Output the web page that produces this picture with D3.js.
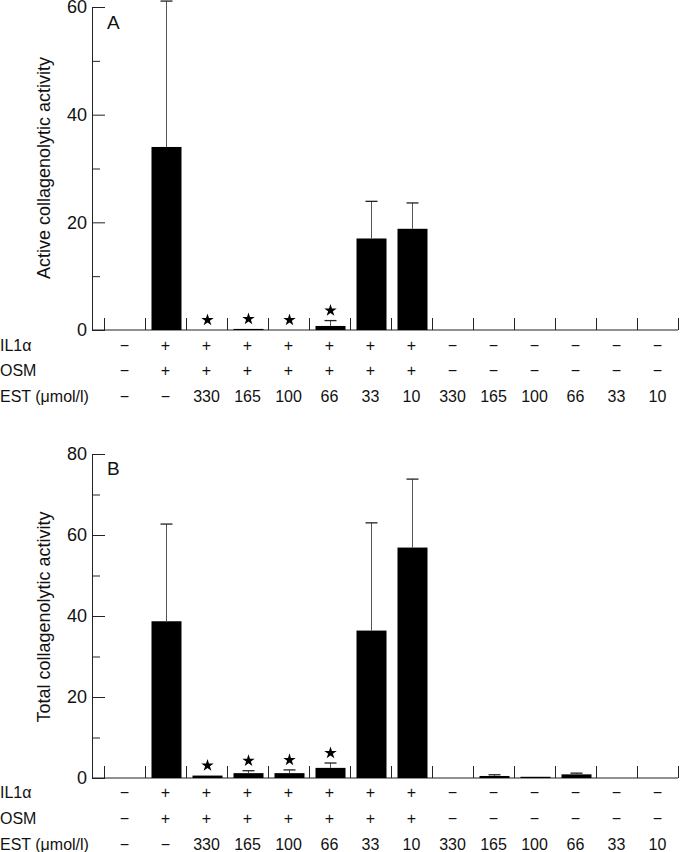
<!DOCTYPE html>
<html><head><meta charset="utf-8">
<script src="https://cdn.jsdelivr.net/npm/d3@7"></script>
<style>
body{margin:0;background:#fff;}
svg{display:block;font-family:"Liberation Sans",Arial,Helvetica,sans-serif;}
</style></head>
<body>
<script>
// ---- data ----
const categories = d3.range(14);
const il1Row = ["−","+","+","+","+","+","+","+","−","−","−","−","−","−"];
const osmRow = ["−","+","+","+","+","+","+","+","−","−","−","−","−","−"];
const estRow = ["−","−","330","165","100","66","33","10","330","165","100","66","33","10"];
const rowLabels = ["IL1α","OSM","EST (μmol/l)"];

const activeMean = [0, 34, 0, 0.2, 0, 0.75, 17.0, 18.8, 0, 0, 0, 0, 0, 0];
const activeErr  = [0, 27.1, 0, 0, 0, 1.0, 6.9, 4.8, 0, 0, 0, 0, 0, 0];
const activeSig  = [0, 0, 1, 1, 1, 1, 0, 0, 0, 0, 0, 0, 0, 0];

const totalMean = [0, 38.7, 0.6, 1.2, 1.2, 2.5, 36.4, 56.9, 0, 0.5, 0.3, 0.9, 0, 0];
const totalErr  = [0, 24.0, 0, 0.6, 0.8, 1.2, 26.6, 16.9, 0, 0.3, 0, 0.3, 0, 0];
const totalSig  = [0, 0, 1, 1, 1, 1, 0, 0, 0, 0, 0, 0, 0, 0];

const activeTicks = [0, 20, 40, 60];
const activeMinor = [10, 30, 50];
const totalTicks = [0, 20, 40, 60, 80];
const totalMinor = [10, 30, 50, 70];

// ---- layout ----
const W = 680, H = 852;
const svg = d3.select("body").append("svg").attr("width", W).attr("height", H);

const x = d3.scaleBand().domain(categories).range([104, 678]).padding(0);
const xb = d3.scaleLinear().domain([0, 14]).range([104, 678]);
const barW = 30;
const axisX = 92;

function panel(cfg) {
  const y = d3.scaleLinear().domain([0, cfg.max]).range([cfg.y0, cfg.yTop]);
  const g = svg.append("g");

  // y axis major
  g.append("g").attr("transform", `translate(${axisX},0)`)
    .call(d3.axisLeft(y).tickValues(cfg.ticks).tickFormat(d3.format("d"))
      .tickSizeInner(-13).tickSizeOuter(0).tickPadding(5))
    .call(s => {
      s.selectAll("text").attr("font-size", 18).attr("fill", "#111")
        .attr("font-family", '"Liberation Sans",Arial,sans-serif');
      s.selectAll("line,path").attr("stroke", "#222");
    });
  // y axis minor
  g.append("g").attr("transform", `translate(${axisX},0)`)
    .call(d3.axisLeft(y).tickValues(cfg.minor).tickFormat("").tickSizeInner(-8).tickSizeOuter(0))
    .call(s => { s.select(".domain").remove(); s.selectAll("line").attr("stroke", "#222"); });

  // x axis line + boundary ticks
  g.append("line").attr("x1", axisX).attr("x2", 678)
    .attr("y1", cfg.y0).attr("y2", cfg.y0).attr("stroke", "#222");
  g.append("g").attr("transform", `translate(0,${cfg.y0})`)
    .call(d3.axisBottom(xb).tickValues(d3.range(15)).tickFormat("").tickSizeInner(-12).tickSizeOuter(0))
    .call(s => { s.select(".domain").remove(); s.selectAll("line").attr("stroke", "#222"); });

  // bars
  g.selectAll("rect.bar").data(categories).join("rect").attr("class", "bar")
    .attr("x", d => x(d) + x.bandwidth() / 2 - barW / 2 + 1)
    .attr("width", barW)
    .attr("y", d => y(cfg.mean[d]))
    .attr("height", d => cfg.y0 - y(cfg.mean[d]))
    .attr("fill", "#000");

  // error bars
  const eb = categories.filter(d => cfg.err[d] > 0);
  const cx = d => x(d) + x.bandwidth() / 2 + 1;
  g.selectAll("line.err").data(eb).join("line").attr("class", "err")
    .attr("x1", cx).attr("x2", cx)
    .attr("y1", d => y(cfg.mean[d])).attr("y2", d => y(cfg.mean[d] + cfg.err[d]))
    .attr("stroke", "#555").attr("stroke-width", 1);
  g.selectAll("line.cap").data(eb).join("line").attr("class", "cap")
    .attr("x1", d => cx(d) - 6).attr("x2", d => cx(d) + 6)
    .attr("y1", d => y(cfg.mean[d] + cfg.err[d])).attr("y2", d => y(cfg.mean[d] + cfg.err[d]))
    .attr("stroke", "#222").attr("stroke-width", 1.3);

  // significance stars
  g.selectAll("path.star").data(categories.filter(d => cfg.sig[d])).join("path").attr("class", "star")
    .attr("d", d3.symbol().type(d3.symbolStar).size(48))
    .attr("transform", d => `translate(${cx(d)},${y(cfg.mean[d] + cfg.err[d]) - 10})`)
    .attr("fill", "#000");

  // axis title
  g.append("text").attr("transform", `translate(50,${cfg.titleY}) rotate(-90)`)
    .attr("text-anchor", "middle").attr("font-size", 18).attr("fill", "#111").text(cfg.title);
  // panel letter
  g.append("text").attr("x", 107).attr("y", cfg.letterY).attr("font-size", 19)
    .attr("fill", "#111").text(cfg.letter);

  // condition rows
  const rows = [il1Row, osmRow, estRow];
  rows.forEach((row, i) => {
    const ry = cfg.rowY[i];
    g.append("text").attr("x", 0).attr("y", ry).attr("dy", "0.35em")
      .attr("font-size", 16).attr("fill", "#111").text(rowLabels[i]);
    g.selectAll(null).data(categories).join("text")
      .attr("x", d => x(d) + x.bandwidth() / 2).attr("y", ry).attr("dy", "0.35em")
      .attr("text-anchor", "middle").attr("font-size", 16).attr("fill", "#111")
      .text(d => row[d]);
  });
}

panel({ max: 60, y0: 330, yTop: 7, ticks: activeTicks, minor: activeMinor,
  mean: activeMean, err: activeErr, sig: activeSig,
  title: "Active collagenolytic activity", titleY: 168, letter: "A", letterY: 29,
  rowY: [345, 370.5, 396.5] });

panel({ max: 80, y0: 778, yTop: 454, ticks: totalTicks, minor: totalMinor,
  mean: totalMean, err: totalErr, sig: totalSig,
  title: "Total collagenolytic activity", titleY: 617, letter: "B", letterY: 475,
  rowY: [792, 818, 844] });
</script>
</body></html>
